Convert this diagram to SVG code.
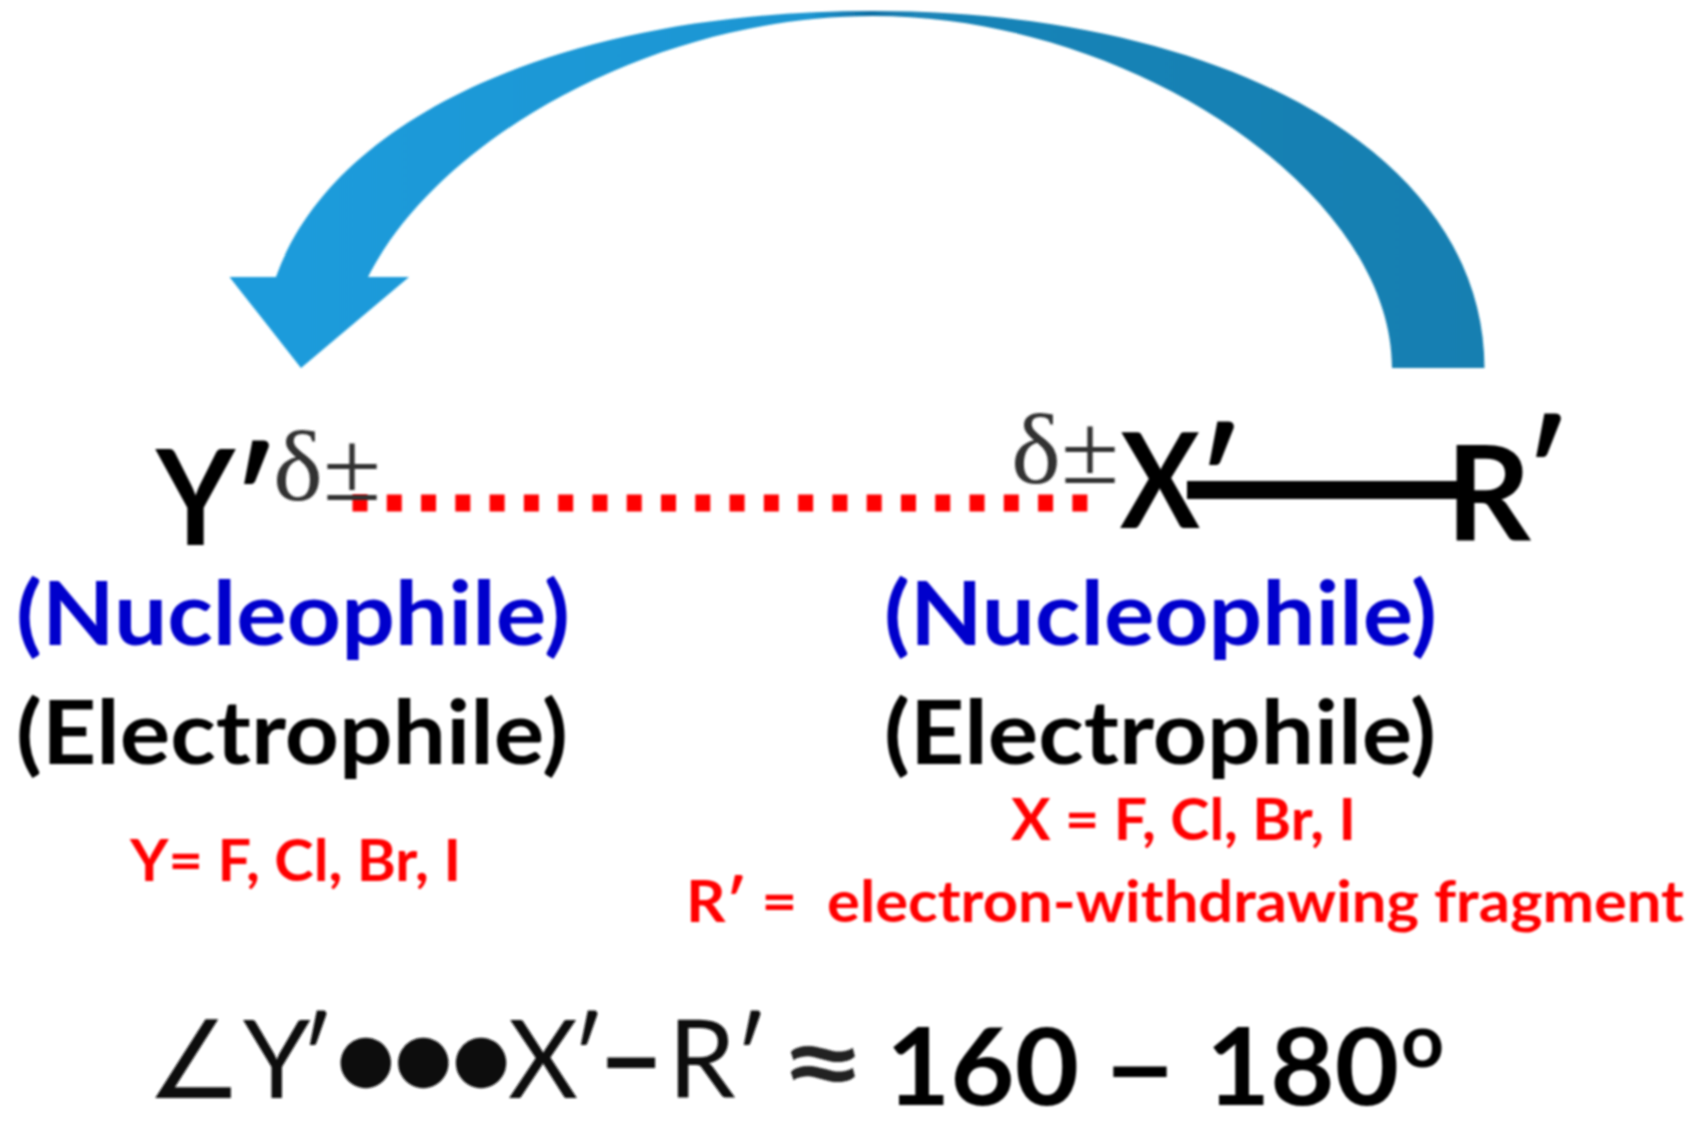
<svg xmlns="http://www.w3.org/2000/svg" width="1701" height="1125" viewBox="0 0 1701 1125">
<defs>
<linearGradient id="arc" gradientUnits="userSpaceOnUse" x1="276" y1="0" x2="1485" y2="0">
<stop offset="0" stop-color="#1b9bdb"/><stop offset="0.44" stop-color="#1b96d2"/><stop offset="0.49" stop-color="#0f6fa3"/><stop offset="0.53" stop-color="#1a84b8"/><stop offset="1" stop-color="#157fb1"/>
</linearGradient>
<filter id="soft" filterUnits="userSpaceOnUse" x="0" y="0" width="1701" height="1125"><feGaussianBlur stdDeviation="0.8"/></filter>
</defs>
<style>
text{font-family:"Lato","Carlito","Liberation Sans",sans-serif;white-space:pre}
.atom{font-weight:700;font-size:132px;fill:#000}
.prime{font-weight:700;font-size:132px;fill:#000}
.delta{font-family:"Liberation Serif",serif;font-size:100px;fill:#333}
.role{font-weight:700;font-size:88px}
.blue{fill:#0000cc}
.black{fill:#000}
.note{font-weight:700;font-size:58px;fill:#ff0000}
.formula{font-size:108px;fill:#111}
.approx{font-size:112px;font-weight:700;fill:#222}
.angle{font-size:108px;font-weight:700;fill:#000}
.sup{font-size:75px;font-weight:700;fill:#000}
.dash{font-size:108px;font-weight:900;fill:#000}
</style>
<rect width="1701" height="1125" fill="#fff"/>
<g id="connectors" filter="url(#soft)">
<path id="curved-arrow" fill="url(#arc)" d="M1484.5 368 C1484.5 158 1232 11 873 11 C563.6 11 333 116.5 276 277 L229.5 277 L301 368 L409 277 L368 277 C439.6 136 656.6 16 873 16 C1132 16 1392 192 1392 368 Z"/>
<line id="halogen-bond" x1="352.5" y1="503" x2="1088" y2="503" stroke="#ff0000" stroke-width="17" stroke-dasharray="15 19.28"/>
<line id="covalent-bond" x1="1187" y1="490" x2="1460" y2="490" stroke="#000" stroke-width="18"/>
</g>
<g id="node-y" filter="url(#soft)">
<text class="atom" x="156" y="545" textLength="79" lengthAdjust="spacingAndGlyphs">Y</text>
<text class="prime" x="232" y="547">′</text>
<text class="delta" x="273" y="500" textLength="108" lengthAdjust="spacingAndGlyphs">δ±</text>
<text class="role blue" x="16" y="645" textLength="554" lengthAdjust="spacingAndGlyphs">(Nucleophile)</text>
<text class="role black" x="16" y="764" textLength="552" lengthAdjust="spacingAndGlyphs">(Electrophile)</text>
<text class="note" x="130" y="881" textLength="331" lengthAdjust="spacingAndGlyphs">Y= F, Cl, Br, I</text>
</g>
<g id="node-x" filter="url(#soft)">
<text class="delta" x="1011" y="483" textLength="108" lengthAdjust="spacingAndGlyphs">δ±</text>
<text class="atom" x="1120" y="528" textLength="80" lengthAdjust="spacingAndGlyphs">X</text>
<text class="prime" x="1197" y="528">′</text>
<text class="role blue" x="884" y="645" textLength="553" lengthAdjust="spacingAndGlyphs">(Nucleophile)</text>
<text class="role black" x="884" y="764" textLength="552" lengthAdjust="spacingAndGlyphs">(Electrophile)</text>
<text class="note" x="1011" y="840" textLength="345" lengthAdjust="spacingAndGlyphs">X = F, Cl, Br, I</text>
</g>
<g id="node-r" filter="url(#soft)">
<text class="atom" x="1446" y="540">R</text>
<text class="prime" x="1524" y="520">′</text>
<text class="note" x="686" y="922" textLength="998" lengthAdjust="spacingAndGlyphs">R′ =  electron-withdrawing fragment</text>
</g>
<g id="angle-formula" filter="url(#soft)">
<text class="formula" y="1098"><tspan x="146">∠</tspan><tspan x="243">Y</tspan><tspan x="299">′</tspan><tspan x="337" y="1080" font-family="DejaVu Sans" font-size="66">●●●</tspan><tspan x="508" y="1098">X</tspan><tspan x="570">′</tspan><tspan x="597" font-weight="700" font-size="118">–</tspan><tspan x="668">R</tspan><tspan x="733">′</tspan></text>
<text class="approx" x="779" y="1102" textLength="88" lengthAdjust="spacingAndGlyphs">≈</text>
<text class="angle" x="886" y="1105" textLength="193" lengthAdjust="spacingAndGlyphs">160</text>
<text class="dash" x="1102" y="1105" textLength="76" lengthAdjust="spacingAndGlyphs">–</text>
<text class="angle" x="1206" y="1105" textLength="193" lengthAdjust="spacingAndGlyphs">180</text>
<text class="sup" x="1401" y="1067">o</text>
</g>
</svg>
